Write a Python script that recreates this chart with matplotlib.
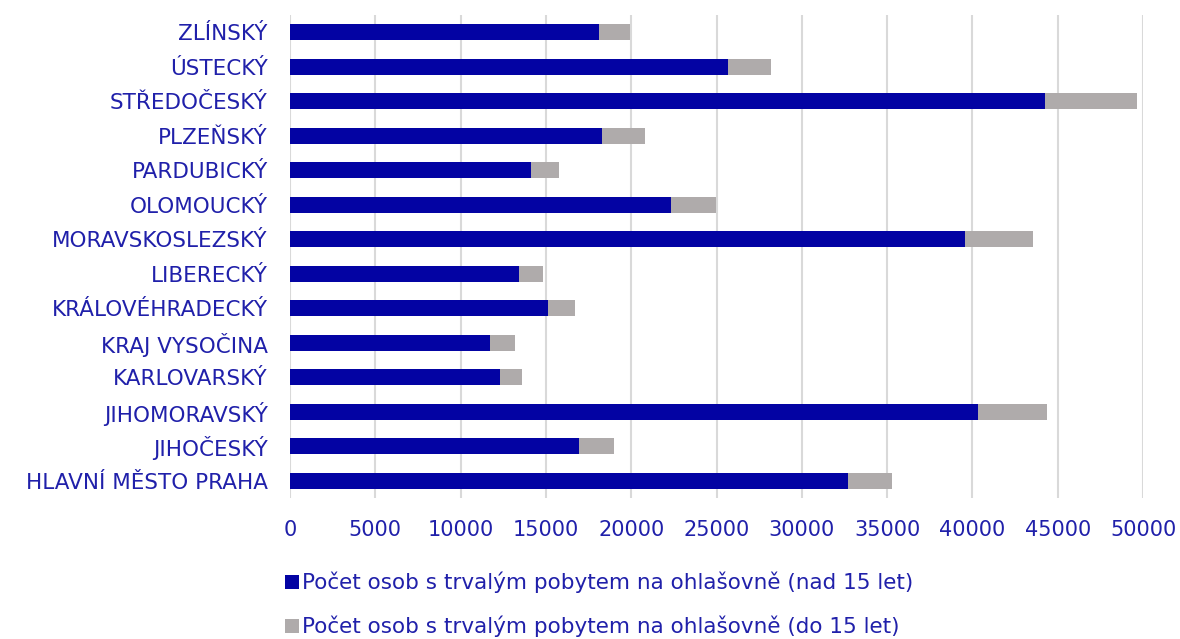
import numpy as np
import matplotlib
matplotlib.use("Agg")
import matplotlib.pyplot as plt

kraje = ["HLAVNÍ MĚSTO PRAHA", "JIHOČESKÝ", "JIHOMORAVSKÝ", "KARLOVARSKÝ",
         "KRAJ VYSOČINA", "KRÁLOVÉHRADECKÝ", "LIBERECKÝ", "MORAVSKOSLEZSKÝ",
         "OLOMOUCKÝ", "PARDUBICKÝ", "PLZEŇSKÝ", "STŘEDOČESKÝ", "ÚSTECKÝ", "ZLÍNSKÝ"]
nad_15 = [32700, 16940, 40300, 12310, 11740, 15120, 13440, 39540,
          22310, 14120, 18300, 44270, 25690, 18110]
do_15 = [2600, 2070, 4060, 1290, 1450, 1600, 1410, 3980,
         2680, 1630, 2490, 5350, 2480, 1800]

BLUE = "#0303a3"
GRAY = "#afabab"
TEXT = "#2020aa"

plt.rcParams["font.family"] = ["DejaVu Sans"]

fig = plt.figure(figsize=(11.8, 6.39), dpi=100)
ax = fig.add_axes([0.2458, 0.2207, 0.7229, 0.7558])

y = np.arange(len(kraje))
ax.barh(y, nad_15, height=0.46, color=BLUE, label="Počet osob s trvalým pobytem na ohlašovně (nad 15 let)", zorder=3)
ax.barh(y, do_15, left=nad_15, height=0.46, color=GRAY, label="Počet osob s trvalým pobytem na ohlašovně (do 15 let)", zorder=3)

ax.set_xlim(0, 50000)
ax.set_ylim(-0.5, len(kraje) - 0.5)
ax.set_xticks(np.arange(0, 50001, 5000))
ax.set_yticks(y)
ax.set_yticklabels(kraje)
ax.tick_params(axis="both", length=0, labelcolor=TEXT)
ax.tick_params(axis="x", pad=16, labelsize=15)
ax.tick_params(axis="y", pad=16, labelsize=15.5)
ax.grid(axis="x", color="#d9d9d9", linewidth=1.5, zorder=0)
for s in ax.spines.values():
    s.set_visible(False)

leg = fig.legend(loc="upper center", bbox_to_anchor=(0.508, 0.122), ncol=1,
                 frameon=False, fontsize=15.5, handlelength=0.65, handleheight=0.65,
                 handletextpad=0.15, labelspacing=1.05, borderpad=0)
for t in leg.get_texts():
    t.set_color(TEXT)

fig.savefig("out.png", dpi=100)
